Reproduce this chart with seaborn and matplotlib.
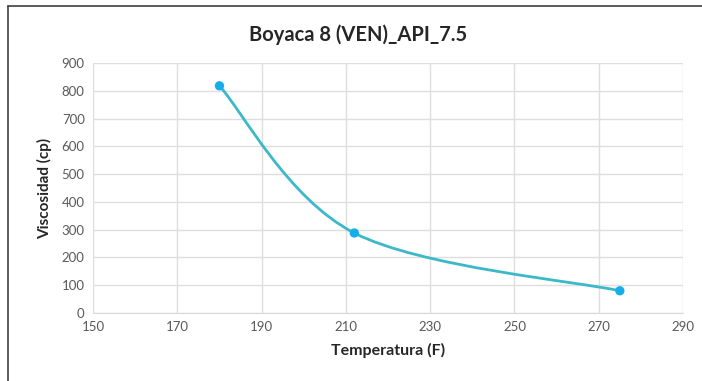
import numpy as np
import pandas as pd
import matplotlib
matplotlib.use("Agg")
import matplotlib.pyplot as plt
from matplotlib.path import Path
from matplotlib.patches import PathPatch
from matplotlib.lines import Line2D
import seaborn as sns

# -----------------------------
# Data
# -----------------------------
temperatura = [180, 212, 275]
viscosidad = [818, 288, 80]
x_ticks = [150, 170, 190, 210, 230, 250, 270, 290]
y_ticks = [0, 100, 200, 300, 400, 500, 600, 700, 800, 900]

df = pd.DataFrame({"Temperatura": temperatura, "Viscosidad": viscosidad})

sns.set_style("white")
plt.rcParams['font.family'] = ['Lato', 'DejaVu Sans']

fig = plt.figure(figsize=(7.02, 3.81), dpi=100)
ax = fig.add_axes([0.1325, 0.1785, 0.8405, 0.656])

# -----------------------------
# Smoothed line (Excel-style Bezier through the points)
# -----------------------------
pts = df[["Temperatura", "Viscosidad"]].to_numpy(dtype=float)
n = len(pts)
verts = [pts[0]]
codes = [Path.MOVETO]
for i in range(n - 1):
    p0 = pts[max(i - 1, 0)]
    p1 = pts[i]
    p2 = pts[i + 1]
    p3 = pts[min(i + 2, n - 1)]
    c1 = p1 + (p2 - p0) / 6.0
    c2 = p2 - (p3 - p1) / 6.0
    verts += [c1, c2, p2]
    codes += [Path.CURVE4] * 3
ax.add_patch(PathPatch(Path(verts, codes), facecolor="none",
                       edgecolor="#3BB9C9", lw=2.0, zorder=3))

sns.scatterplot(data=df, x="Temperatura", y="Viscosidad", ax=ax,
                color="#16AEEA", s=45, edgecolor="none", zorder=4)

ax.set_xlim(150, 290)
ax.set_ylim(0, 900)
ax.set_xticks(x_ticks)
ax.set_yticks(y_ticks)
ax.grid(True, color="#DEDEDE", lw=1.0)
ax.set_axisbelow(True)
for s in ["top", "right", "left"]:
    ax.spines[s].set_visible(False)
ax.spines["bottom"].set_color("#D9D9D9")
ax.tick_params(axis="both", length=0, labelsize=9.5, labelcolor="#595959", pad=6)

ax.set_xlabel("Temperatura (F)", fontsize=11.5, fontweight="bold", color="#262626", labelpad=7)
ax.set_ylabel("Viscosidad (cp)", fontsize=11, fontweight="bold", color="#262626", labelpad=7)
fig.suptitle("Boyaca 8 (VEN)_API_7.5", x=0.51, y=0.935, fontsize=14.5, fontweight="bold", color="#262626")

# frame lines on the left and top edges only
fig.add_artist(Line2D([0.011, 0.011], [0.0, 0.984], transform=fig.transFigure,
                      color="#404040", lw=1.2))
fig.add_artist(Line2D([0.011, 1.0], [0.984, 0.984], transform=fig.transFigure,
                      color="#404040", lw=1.2))

fig.savefig("out.png", dpi=100)
